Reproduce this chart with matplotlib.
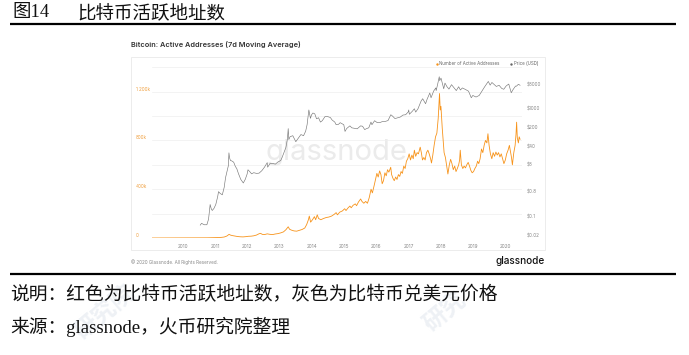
import matplotlib
matplotlib.use("Agg")
import matplotlib.pyplot as plt
from matplotlib.transforms import blended_transform_factory
from matplotlib.patches import Rectangle
import pandas as pd

# ---------------- data ----------------
aa_dates = [
    "2009-01-10", "2009-07-01", "2010-01-01", "2010-07-01", "2010-10-01", "2011-01-01", "2011-03-01",
    "2011-04-15", "2011-05-15", "2011-06-10", "2011-06-25", "2011-07-15", "2011-08-15", "2011-09-15",
    "2011-10-15", "2011-11-15", "2011-12-15", "2012-01-15", "2012-02-15", "2012-03-15", "2012-04-15",
    "2012-05-15", "2012-06-01", "2012-06-20", "2012-07-15", "2012-08-15", "2012-09-15", "2012-10-15",
    "2012-11-15", "2012-12-15", "2013-01-15", "2013-02-15", "2013-03-15", "2013-04-10", "2013-04-25",
    "2013-05-15", "2013-06-15", "2013-07-15", "2013-08-15", "2013-09-15", "2013-10-15", "2013-11-05",
    "2013-11-25", "2013-12-05", "2013-12-20", "2014-01-10", "2014-02-01", "2014-02-15", "2014-03-05",
    "2014-03-20", "2014-04-15", "2014-05-15", "2014-06-15", "2014-07-15", "2014-08-15", "2014-09-15",
    "2014-10-05", "2014-10-20", "2014-11-15", "2014-12-15", "2015-01-10", "2015-01-25", "2015-02-15",
    "2015-03-10", "2015-03-25", "2015-04-15", "2015-05-10", "2015-05-25", "2015-06-15", "2015-07-10",
    "2015-07-25", "2015-08-15", "2015-09-05", "2015-09-25", "2015-10-15", "2015-11-05", "2015-11-20",
    "2015-12-10", "2015-12-25", "2016-01-10", "2016-01-25", "2016-02-10", "2016-02-25", "2016-03-10",
    "2016-03-25", "2016-04-10", "2016-04-25", "2016-05-10", "2016-05-25", "2016-06-15", "2016-06-25",
    "2016-07-10", "2016-07-25", "2016-08-10", "2016-08-25", "2016-09-10", "2016-09-25", "2016-10-10",
    "2016-10-25", "2016-11-10", "2016-11-25", "2016-12-10", "2016-12-25", "2017-01-10", "2017-01-25",
    "2017-02-10", "2017-02-25", "2017-03-10", "2017-03-25", "2017-04-10", "2017-04-25", "2017-05-15",
    "2017-05-28", "2017-06-10", "2017-06-25", "2017-07-10", "2017-07-25", "2017-08-10", "2017-08-25",
    "2017-09-10", "2017-09-20", "2017-10-05", "2017-10-20", "2017-11-05", "2017-11-20", "2017-12-05",
    "2017-12-15", "2017-12-20", "2017-12-28", "2018-01-05", "2018-01-20", "2018-01-30", "2018-02-10",
    "2018-02-25", "2018-03-10", "2018-03-25", "2018-04-10", "2018-04-25", "2018-05-10", "2018-05-25",
    "2018-06-10", "2018-06-25", "2018-07-10", "2018-07-25", "2018-08-05", "2018-08-12", "2018-08-25",
    "2018-09-10", "2018-09-25", "2018-10-10", "2018-10-25", "2018-11-10", "2018-11-25", "2018-12-10",
    "2018-12-25", "2019-01-10", "2019-01-25", "2019-02-10", "2019-02-25", "2019-03-10", "2019-03-25",
    "2019-04-10", "2019-04-25", "2019-05-10", "2019-05-25", "2019-06-10", "2019-06-22", "2019-07-05",
    "2019-07-20", "2019-08-05", "2019-08-20", "2019-09-05", "2019-09-20", "2019-10-05", "2019-10-20",
    "2019-11-05", "2019-11-20", "2019-12-05", "2019-12-20", "2020-01-05", "2020-01-20", "2020-02-05",
    "2020-02-20", "2020-03-05", "2020-03-15", "2020-03-25", "2020-04-10", "2020-04-25", "2020-05-05",
    "2020-05-12", "2020-05-20", "2020-06-01", "2020-06-10", "2020-06-20",
]
aa_values_k = [
    0, 0.3, 0.5, 0.8, 1.5, 3, 4,
    8, 16, 30, 24, 20, 16, 12,
    10, 9, 11, 14, 15, 18, 24,
    35, 38, 30, 28, 34, 30, 28,
    33, 36, 42, 50, 68, 92, 72,
    65, 58, 56, 63, 70, 82, 110,
    150, 180, 130, 150, 175, 150, 190,
    160, 150, 160, 168, 172, 180, 195,
    208, 190, 212, 222, 240, 225, 245,
    262, 248, 268, 280, 265, 295, 320,
    300, 285, 300, 285, 330, 400, 370,
    430, 480, 530, 500, 550, 520, 445,
    470, 535, 510, 560, 540, 580, 520,
    490, 470, 500, 480, 520, 505, 545,
    530, 590, 570, 630, 650, 690, 640,
    680, 650, 720, 670, 700, 690, 745,
    700, 640, 660, 640, 700, 720, 690,
    650, 615, 680, 760, 830, 860, 980,
    1120, 1185, 1050, 1080, 900, 800, 700,
    660, 600, 525, 600, 645, 610, 560,
    590, 545, 570, 600, 640, 720, 600,
    570, 590, 575, 600, 620, 590, 555,
    535, 545, 570, 590, 630, 610, 650,
    730, 700, 760, 800, 780, 855, 760,
    690, 650, 700, 670, 705, 680, 700,
    665, 690, 650, 610, 640, 690, 720,
    760, 700, 660, 600, 700, 760, 850,
    950, 820, 780, 830, 810,
]

price_dates = [
    "2010-07-18", "2010-08-01", "2010-09-01", "2010-10-01", "2010-10-20", "2010-11-07", "2010-11-20",
    "2010-12-01", "2010-12-20", "2011-01-10", "2011-02-01", "2011-02-10", "2011-03-01", "2011-03-25",
    "2011-04-15", "2011-05-01", "2011-05-20", "2011-06-01", "2011-06-08", "2011-06-15", "2011-06-25",
    "2011-07-10", "2011-08-01", "2011-08-20", "2011-09-05", "2011-09-25", "2011-10-20", "2011-11-18",
    "2011-12-10", "2011-12-31", "2012-01-10", "2012-02-01", "2012-02-20", "2012-03-15", "2012-04-15",
    "2012-05-15", "2012-06-15", "2012-07-15", "2012-08-15", "2012-08-20", "2012-09-15", "2012-10-15",
    "2012-11-15", "2012-12-15", "2013-01-15", "2013-02-01", "2013-02-20", "2013-03-15", "2013-04-01",
    "2013-04-10", "2013-04-17", "2013-05-01", "2013-06-01", "2013-07-05", "2013-08-01", "2013-09-01",
    "2013-10-01", "2013-10-25", "2013-11-10", "2013-11-30", "2013-12-18", "2013-12-31", "2014-01-15",
    "2014-02-05", "2014-02-25", "2014-03-20", "2014-04-10", "2014-05-01", "2014-06-01", "2014-07-01",
    "2014-08-01", "2014-08-20", "2014-09-20", "2014-10-05", "2014-11-01", "2014-11-20", "2014-12-31",
    "2015-01-14", "2015-02-01", "2015-03-10", "2015-04-01", "2015-05-01", "2015-06-01", "2015-07-10",
    "2015-08-01", "2015-08-25", "2015-09-15", "2015-10-10", "2015-11-04", "2015-11-15", "2015-12-15",
    "2016-01-15", "2016-02-10", "2016-03-10", "2016-04-10", "2016-05-15", "2016-06-16", "2016-07-05",
    "2016-08-02", "2016-09-01", "2016-10-01", "2016-11-01", "2016-12-01", "2016-12-31", "2017-01-05",
    "2017-01-12", "2017-02-15", "2017-03-10", "2017-03-25", "2017-04-20", "2017-05-25", "2017-06-12",
    "2017-07-15", "2017-08-01", "2017-09-01", "2017-09-15", "2017-10-15", "2017-11-08", "2017-11-12",
    "2017-12-01", "2017-12-17", "2017-12-22", "2018-01-06", "2018-02-06", "2018-02-20", "2018-03-15",
    "2018-04-06", "2018-05-05", "2018-06-28", "2018-07-25", "2018-08-14", "2018-09-05", "2018-10-10",
    "2018-11-14", "2018-12-15", "2019-01-01", "2019-02-07", "2019-03-15", "2019-04-03", "2019-05-14",
    "2019-06-26", "2019-07-17", "2019-08-06", "2019-09-25", "2019-10-26", "2019-11-25", "2019-12-18",
    "2020-01-15", "2020-02-13", "2020-03-12", "2020-04-01", "2020-04-30", "2020-05-10", "2020-06-01",
    "2020-06-20",
]
price_usd = [
    0.06, 0.07, 0.062, 0.062, 0.10, 0.35, 0.24,
    0.21, 0.25, 0.35, 0.70, 1.05, 0.90, 0.80,
    1.5, 3.5, 6.5, 9.5, 29, 19, 15,
    14.5, 13, 9, 7.5, 4.8, 3.0, 2.2,
    3.0, 4.7, 6.8, 5.7, 4.8, 5.3, 5.0,
    5.1, 6.3, 8.5, 12.5, 8.5, 11.5, 11.8,
    11.0, 13.3, 15, 20, 29, 46, 95,
    230, 90, 115, 125, 75, 100, 138,
    125, 185, 320, 1130, 550, 750, 870,
    810, 530, 580, 400, 450, 640, 640,
    590, 480, 400, 320, 330, 380, 320,
    180, 230, 290, 245, 235, 225, 290,
    280, 210, 230, 245, 400, 320, 450,
    380, 380, 415, 420, 455, 750, 670,
    540, 575, 615, 730, 750, 960, 1130,
    780, 1010, 1250, 940, 1250, 2400, 2950,
    1920, 2800, 4800, 3200, 5700, 7400, 5900,
    10900, 19300, 13800, 17100, 6900, 11200, 8200,
    6700, 9800, 5900, 8200, 6200, 7400, 6500,
    5600, 3200, 3900, 3400, 3900, 4900, 8000,
    12900, 9400, 11800, 8400, 9300, 7100, 6600,
    8800, 10300, 4900, 6400, 8700, 8600, 10100,
    9300,
]

year_ticks = [str(y) for y in range(2010, 2021)]
left_ticks = [0, 400, 800, 1200]
left_labels = ["0", "400k", "800k", "1 200k"]
right_ticks = [0.02, 0.1, 0.8, 8, 40, 200, 1000, 8000]
right_labels = ["$0.02", "$0.1", "$0.8", "$8", "$40", "$200", "$1000", "$8000"]

# ---------------- figure ----------------
W, H = 689, 355
fig = plt.figure(figsize=(W / 100, H / 100), dpi=100)
fig.patch.set_facecolor("white")

CJK = ["Liberation Serif", "Noto Sans CJK SC"]
SANS = ["Inter", "DejaVu Sans"]

page = fig.add_axes([0, 0, 1, 1])
page.set_xlim(0, W)
page.set_ylim(H, 0)
page.axis("off")

# faint page watermarks
wm_color = "#eef1f5"
for (wx, wy, s) in [(105, 312, "研究院"), (445, 312, "研究")]:
    page.text(wx, wy, s, fontsize=17, color=wm_color, rotation=40, ha="center", va="center",
              family=["Noto Sans CJK SC"], fontweight="bold", zorder=0)

# title
page.text(12, 13, "图14", fontsize=13.3, family=CJK, va="center", ha="left", color="#111111")
page.text(77, 13, "比特币活跃地址数", fontsize=13.3, family=CJK, va="center", ha="left", color="#111111")
page.plot([10, 676], [24.3, 24.3], color="black", lw=1.6, solid_capstyle="butt")
page.plot([10, 676], [273.5, 273.5], color="black", lw=1.6, solid_capstyle="butt")

# notes
page.text(10, 295, "说明：红色为比特币活跃地址数，灰色为比特币兑美元价格", fontsize=13.5, family=CJK,
          va="center", ha="left", color="#111111")
page.text(10, 327, "来源：glassnode，火币研究院整理", fontsize=13.5, family=CJK,
          va="center", ha="left", color="#111111")

# chart box
page.add_patch(Rectangle((131, 57), 414, 193, facecolor="white", edgecolor="#e9e9e9", lw=0.6, zorder=1))
page.text(131, 44, "Bitcoin: Active Addresses (7d Moving Average)", fontsize=5.3, family=SANS,
          fontweight="semibold", color="#333333", va="center", ha="left", zorder=2)
page.text(336, 153, "glassnode", fontsize=21, family=SANS, color="#ebebeb", va="center", ha="center", zorder=2)

# legend
page.scatter([436.5], [63.7], s=3, color="#f7931a", zorder=3, linewidths=0)
page.text(439, 63.7, "Number of Active Addresses", fontsize=3.2, family=SANS, color="#666666",
          va="center", ha="left", zorder=3)
page.scatter([510.5], [63.7], s=3, color="#666666", zorder=3, linewidths=0)
page.text(513.5, 63.7, "Price (USD)", fontsize=3.2, family=SANS, color="#666666",
          va="center", ha="left", zorder=3)

# footer
page.text(131, 262, "\u00a9 2020 Glassnode. All Rights Reserved.", fontsize=3.3, family=SANS,
          color="#888888", va="center", ha="left", zorder=3)
page.text(545, 261.5, "glassnode", fontsize=7.2, family=SANS, fontweight="medium",
          color="#111111", va="center", ha="right", zorder=3)

# plot axes
x0, x1, ytop, ybot = 152, 522, 67.3, 238
ax = fig.add_axes([x0 / W, 1 - ybot / H, (x1 - x0) / W, (ybot - ytop) / H])
ax.set_facecolor("none")
ax.set_zorder(5)
for sp in ax.spines.values():
    sp.set_visible(False)

aa_x = pd.to_datetime(aa_dates)
aa_y = [v * 1000 for v in aa_values_k]
px_x = pd.to_datetime(price_dates)

ax.set_ylim(0, 1400000)
ax.set_xlim(pd.Timestamp("2009-01-17"), pd.Timestamp("2020-07-12"))
for g in range(0, 1400001, 200000):
    ax.axhline(g, color="#efefef", lw=0.5, zorder=0)
ax.set_yticks([])
ax.set_xticks(pd.to_datetime([f"{y}-01-01" for y in year_ticks]))
ax.set_xticklabels(year_ticks, fontsize=3.4, color="#888888", family=SANS)
ax.tick_params(axis="x", length=0, pad=4.5)

ax.plot(aa_x, aa_y, color="#f7931a", lw=0.6, zorder=3)

tr = blended_transform_factory(ax.transAxes, ax.transData)
for v, lab in zip(left_ticks, left_labels):
    ax.text((136 - x0) / (x1 - x0), v * 1000, lab, transform=tr, fontsize=3.3, color="#f0a040",
            family=SANS, ha="left", va="bottom")

ax2 = ax.twinx()
ax2.set_yscale("log")
ax2.set_ylim(0.02, 0.02 * 10 ** ((ybot - ytop) / 26.95))
ax2.set_yticks([])
ax2.minorticks_off()
for sp in ax2.spines.values():
    sp.set_visible(False)
ax2.plot(px_x, price_usd, color="#777777", lw=0.45, zorder=2)
tr2 = blended_transform_factory(ax2.transAxes, ax2.transData)
for v, lab in zip(right_ticks, right_labels):
    ax2.text((527 - x0) / (x1 - x0), v, lab, transform=tr2, fontsize=3.3, color="#888888",
             family=SANS, ha="left", va="bottom")

fig.savefig("out.png", dpi=100, facecolor="white")
